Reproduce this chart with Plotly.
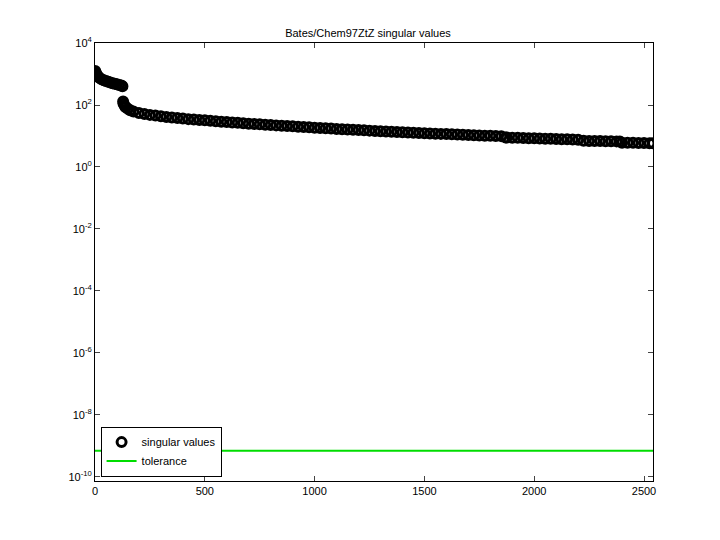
import plotly.graph_objects as go

idx = [1,5,10,15,20,30,40,50,60,70,80,90,100,110,120,125,
       128,130,135,140,150,160,175,200,225,250,275,300,325,350,375,400,425,450,475,500,
       525,550,575,600,625,650,675,700,725,750,775,800,825,850,875,900,925,950,975,1000,
       1025,1050,1075,1100,1125,1150,1175,1200,1225,1250,1275,1300,1325,1350,1375,1400,1425,1450,1475,1500,
       1525,1550,1575,1600,1625,1650,1675,1700,1725,1750,1775,1800,1825,1850,1870,1875,1900,1925,1950,1975,2000,
       2025,2050,2075,2100,2125,2150,2175,2200,2225,2250,2275,2300,2325,2350,2375,2390,2400,2425,2450,2475,2500,2525,2541]
sv = [1250,1050,900,820,750,680,630,590,560,530,505,485,465,445,425,400,
      130,110,95,85,75,68,62,55,51,48,45.5,43,41,39.5,38,36.5,35,34,33,32,
      31,30,29,28.2,27.4,26.6,25.8,25,24.4,23.8,23.2,22.6,22,21.5,21,20.5,20,19.5,19,18.5,
      18.1,17.7,17.3,16.9,16.5,16.1,15.8,15.5,15.2,14.9,14.6,14.3,14,13.7,13.4,13.1,12.9,12.7,12.5,12.3,
      12.1,11.9,11.7,11.5,11.3,11.1,10.9,10.7,10.5,10.3,10.2,10.1,10,9.9,9.0,8.9,8.8,8.7,8.6,8.5,8.4,
      8.3,8.2,8.1,8.0,7.9,7.8,7.7,7.6,7.0,6.95,6.9,6.85,6.8,6.75,6.7,6.65,6.1,6.05,6.0,5.95,5.9,5.85,5.8,5.75]
tol_x = [0, 2541]
tol_y = [7e-10, 7e-10]

fig = go.Figure()
fig.add_trace(go.Scatter(x=idx, y=sv, mode="markers", name="singular values",
    marker=dict(symbol="circle-open", size=9, color="black", line=dict(width=3))))
fig.add_trace(go.Scatter(x=tol_x, y=tol_y, mode="lines", name="tolerance",
    line=dict(color="#00dd00", width=2)))

tv = [10**k for k in range(-10, 5, 2)]
tt = [f"10<sup>{k}</sup>" for k in range(-10, 5, 2)]
fig.update_layout(
    width=720, height=540, paper_bgcolor="white", plot_bgcolor="white",
    margin=dict(l=87, r=75, t=35, b=67),
    font=dict(family="Liberation Sans, Arial", size=11, color="black"),
    title=dict(text="Bates/Chem97ZtZ singular values", x=0.5, xanchor="center", y=0.96, font=dict(size=11)),
    xaxis=dict(range=[0, 2541], tickvals=[0,500,1000,1500,2000,2500], showgrid=False, zeroline=False,
               showline=True, linecolor="black", mirror="ticks", ticks="inside", ticklen=5),
    yaxis=dict(type="log", range=[-10.13, 4], tickvals=tv, ticktext=tt, showgrid=False, zeroline=False,
               showline=True, linecolor="black", mirror="ticks", ticks="inside", ticklen=5),
    legend=dict(x=0.01, y=0.01, xanchor="left", yanchor="bottom", bgcolor="white",
                bordercolor="black", borderwidth=1, font=dict(size=11)),
    showlegend=True,
)
fig.write_html("out.html")
